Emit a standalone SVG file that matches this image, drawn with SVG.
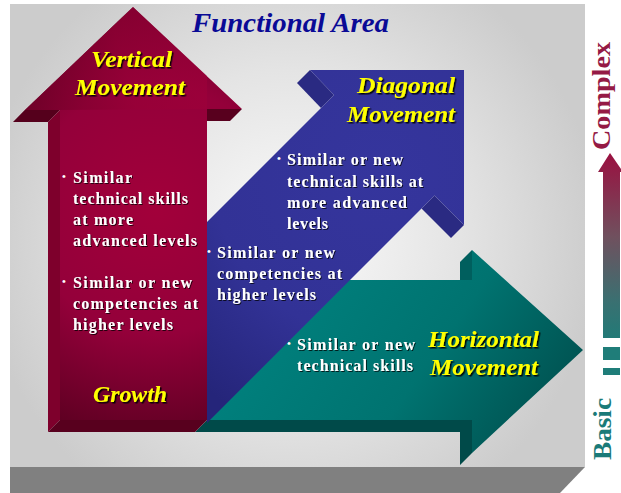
<svg xmlns="http://www.w3.org/2000/svg" width="621" height="493" viewBox="0 0 621 493">
<defs>
  <radialGradient id="bgG" gradientUnits="userSpaceOnUse" cx="290" cy="240" r="310">
    <stop offset="0" stop-color="#fbfbfb"/>
    <stop offset="0.55" stop-color="#e4e4e4"/>
    <stop offset="1" stop-color="#cccccc"/>
  </radialGradient>
  <radialGradient id="redG" gradientUnits="userSpaceOnUse" cx="155" cy="210" r="250">
    <stop offset="0" stop-color="#a2003a"/>
    <stop offset="0.5" stop-color="#94003a"/>
    <stop offset="1" stop-color="#55001e"/>
  </radialGradient>
  <linearGradient id="redHeadG" gradientUnits="userSpaceOnUse" x1="20" y1="110" x2="200" y2="60">
    <stop offset="0" stop-color="#5e0020"/>
    <stop offset="0.6" stop-color="#980036"/>
    <stop offset="1" stop-color="#a0003a"/>
  </linearGradient>
  <radialGradient id="blueG" gradientUnits="userSpaceOnUse" cx="380" cy="170" r="280">
    <stop offset="0" stop-color="#35359d"/>
    <stop offset="0.6" stop-color="#323296"/>
    <stop offset="1" stop-color="#25257a"/>
  </radialGradient>
  <linearGradient id="tealG" gradientUnits="userSpaceOnUse" x1="300" y1="270" x2="560" y2="450">
    <stop offset="0" stop-color="#00807d"/>
    <stop offset="0.5" stop-color="#007370"/>
    <stop offset="1" stop-color="#004c4b"/>
  </linearGradient>
  <linearGradient id="scaleG" gradientUnits="userSpaceOnUse" x1="0" y1="153" x2="0" y2="338">
    <stop offset="0" stop-color="#9a1040"/>
    <stop offset="0.45" stop-color="#70505e"/>
    <stop offset="0.8" stop-color="#3a7071"/>
    <stop offset="1" stop-color="#227a77"/>
  </linearGradient>
  <filter id="ysh" x="-10%" y="-20%" width="130%" height="150%">
    <feDropShadow dx="1.5" dy="1.5" stdDeviation="0.4" flood-color="#000" flood-opacity="0.9"/>
  </filter>
  <filter id="wsh" x="-10%" y="-20%" width="130%" height="150%">
    <feDropShadow dx="1" dy="1" stdDeviation="0.3" flood-color="#000" flood-opacity="0.75"/>
  </filter>
</defs>
<style>
  .head{font-family:"Liberation Serif","Times New Roman",serif;font-weight:bold;font-style:italic;font-size:23px;fill:#ffff00;filter:url(#ysh)}
  .body{font-family:"Liberation Serif","Times New Roman",serif;font-weight:bold;font-size:16px;fill:#ffffff;filter:url(#wsh)}
  .bul{font-family:"Liberation Serif","Times New Roman",serif;font-weight:bold;font-size:11px;fill:#ffffff}
  .title{font-family:"Liberation Serif","Times New Roman",serif;font-weight:bold;font-style:italic;font-size:28px;fill:#0a0a96}
  .scale{font-family:"Liberation Serif","Times New Roman",serif;font-weight:bold;font-size:25px}
</style>
<rect width="621" height="493" fill="#ffffff"/>
<g id="backdrop">
  <rect x="10" y="4" width="575" height="463" fill="url(#bgG)"/>
  <polygon points="10,467 585,467 560,493 10,493" fill="#808080"/>
</g>
<g id="title">
  <text class="title" x="192" y="32" textLength="197" lengthAdjust="spacingAndGlyphs">Functional Area</text>
</g>
<g id="horizontal">
  <polygon points="460,262 472,250 472,280 460,280" fill="#005f5e"/>
  <polygon points="195,432 207,420 472,420 472,453 460,465 460,432" fill="#004a49"/>
  <polygon points="207,280 472,280 472,250 583,350 472,453 472,420 207,420" fill="url(#tealG)"/>
  <text class="head" x="428" y="347" textLength="111" lengthAdjust="spacingAndGlyphs">Horizontal</text>
  <text class="head" x="430" y="375" textLength="108" lengthAdjust="spacingAndGlyphs">Movement</text>
  <text class="bul" x="287" y="347">•</text>
  <text class="body" x="297" y="350" textLength="118">Similar or new</text>
  <text class="body" x="297" y="371" textLength="116">technical skills</text>
</g>
<g id="diagonal">
  <polygon points="310,70 334,95 321,108 297,83" fill="#2a2a82"/>
  <polygon points="434.5,195.5 464,225 451,238 421.5,208.5" fill="#2a2a82"/>
  <polygon points="207,222 334,95 310,70 464,70 464,225 434.5,195.5 207,423" fill="url(#blueG)"/>
  <text class="head" x="455" y="93" text-anchor="end" textLength="98" lengthAdjust="spacingAndGlyphs">Diagonal</text>
  <text class="head" x="455" y="122" text-anchor="end" textLength="108" lengthAdjust="spacingAndGlyphs">Movement</text>
  <text class="bul" x="277" y="162">•</text>
  <text class="body" x="287" y="165" textLength="116">Similar or new</text>
  <text class="body" x="287" y="187" textLength="136">technical skills at</text>
  <text class="body" x="287" y="208" textLength="120">more advanced</text>
  <text class="body" x="287" y="229" textLength="41">levels</text>
  <text class="bul" x="207" y="255">•</text>
  <text class="body" x="217" y="258" textLength="118">Similar or new</text>
  <text class="body" x="217" y="279" textLength="125">competencies at</text>
  <text class="body" x="217" y="300" textLength="99">higher levels</text>
</g>
<g id="vertical">
  <polygon points="133,7 25,110 13,122 121,19" fill="#5a001e"/>
  <polygon points="25,110 60,110 48,122 13,122" fill="#55001c"/>
  <polygon points="60,110 60,420 48,432 48,122" fill="#7e002c"/>
  <polygon points="48,432 60,420 207,420 195,432" fill="#58001e"/>
  <polygon points="207,109 242,109 230,121 207,121" fill="#58001e"/>
  <polygon points="133,7 242,109 207,109 207,420 60,420 60,110 25,110" fill="url(#redG)"/>
  <polygon points="133,7 207,76 207,109 60,110 25,110" fill="url(#redHeadG)" opacity="0.55"/>
  <text class="head" x="91" y="67" textLength="81" lengthAdjust="spacingAndGlyphs">Vertical</text>
  <text class="head" x="75" y="95" textLength="110" lengthAdjust="spacingAndGlyphs">Movement</text>
  <text class="bul" x="62" y="180">•</text>
  <text class="body" x="73" y="183" textLength="59">Similar</text>
  <text class="body" x="73" y="204" textLength="115">technical skills</text>
  <text class="body" x="73" y="225" textLength="60">at more</text>
  <text class="body" x="73" y="246" textLength="124">advanced levels</text>
  <text class="bul" x="62" y="285">•</text>
  <text class="body" x="73" y="288" textLength="119">Similar or new</text>
  <text class="body" x="73" y="309" textLength="125">competencies at</text>
  <text class="body" x="73" y="330" textLength="100">higher levels</text>
  <text class="head" x="93" y="402" textLength="74" lengthAdjust="spacingAndGlyphs">Growth</text>
</g>
<g id="scale">
  <text class="scale" fill="#951a45" transform="translate(610,150) rotate(-90)" textLength="108" lengthAdjust="spacingAndGlyphs">Complex</text>
  <polygon points="610,153 623,172 620,172 620,338 603,338 603,172 598,172" fill="url(#scaleG)"/>
  <rect x="603" y="347" width="17" height="13" fill="#1f7d79"/>
  <rect x="603" y="368" width="17" height="7" fill="#1f7d79"/>
  <text class="scale" fill="#1a7a78" transform="translate(611,460) rotate(-90)" textLength="62" lengthAdjust="spacingAndGlyphs">Basic</text>
</g>
</svg>
